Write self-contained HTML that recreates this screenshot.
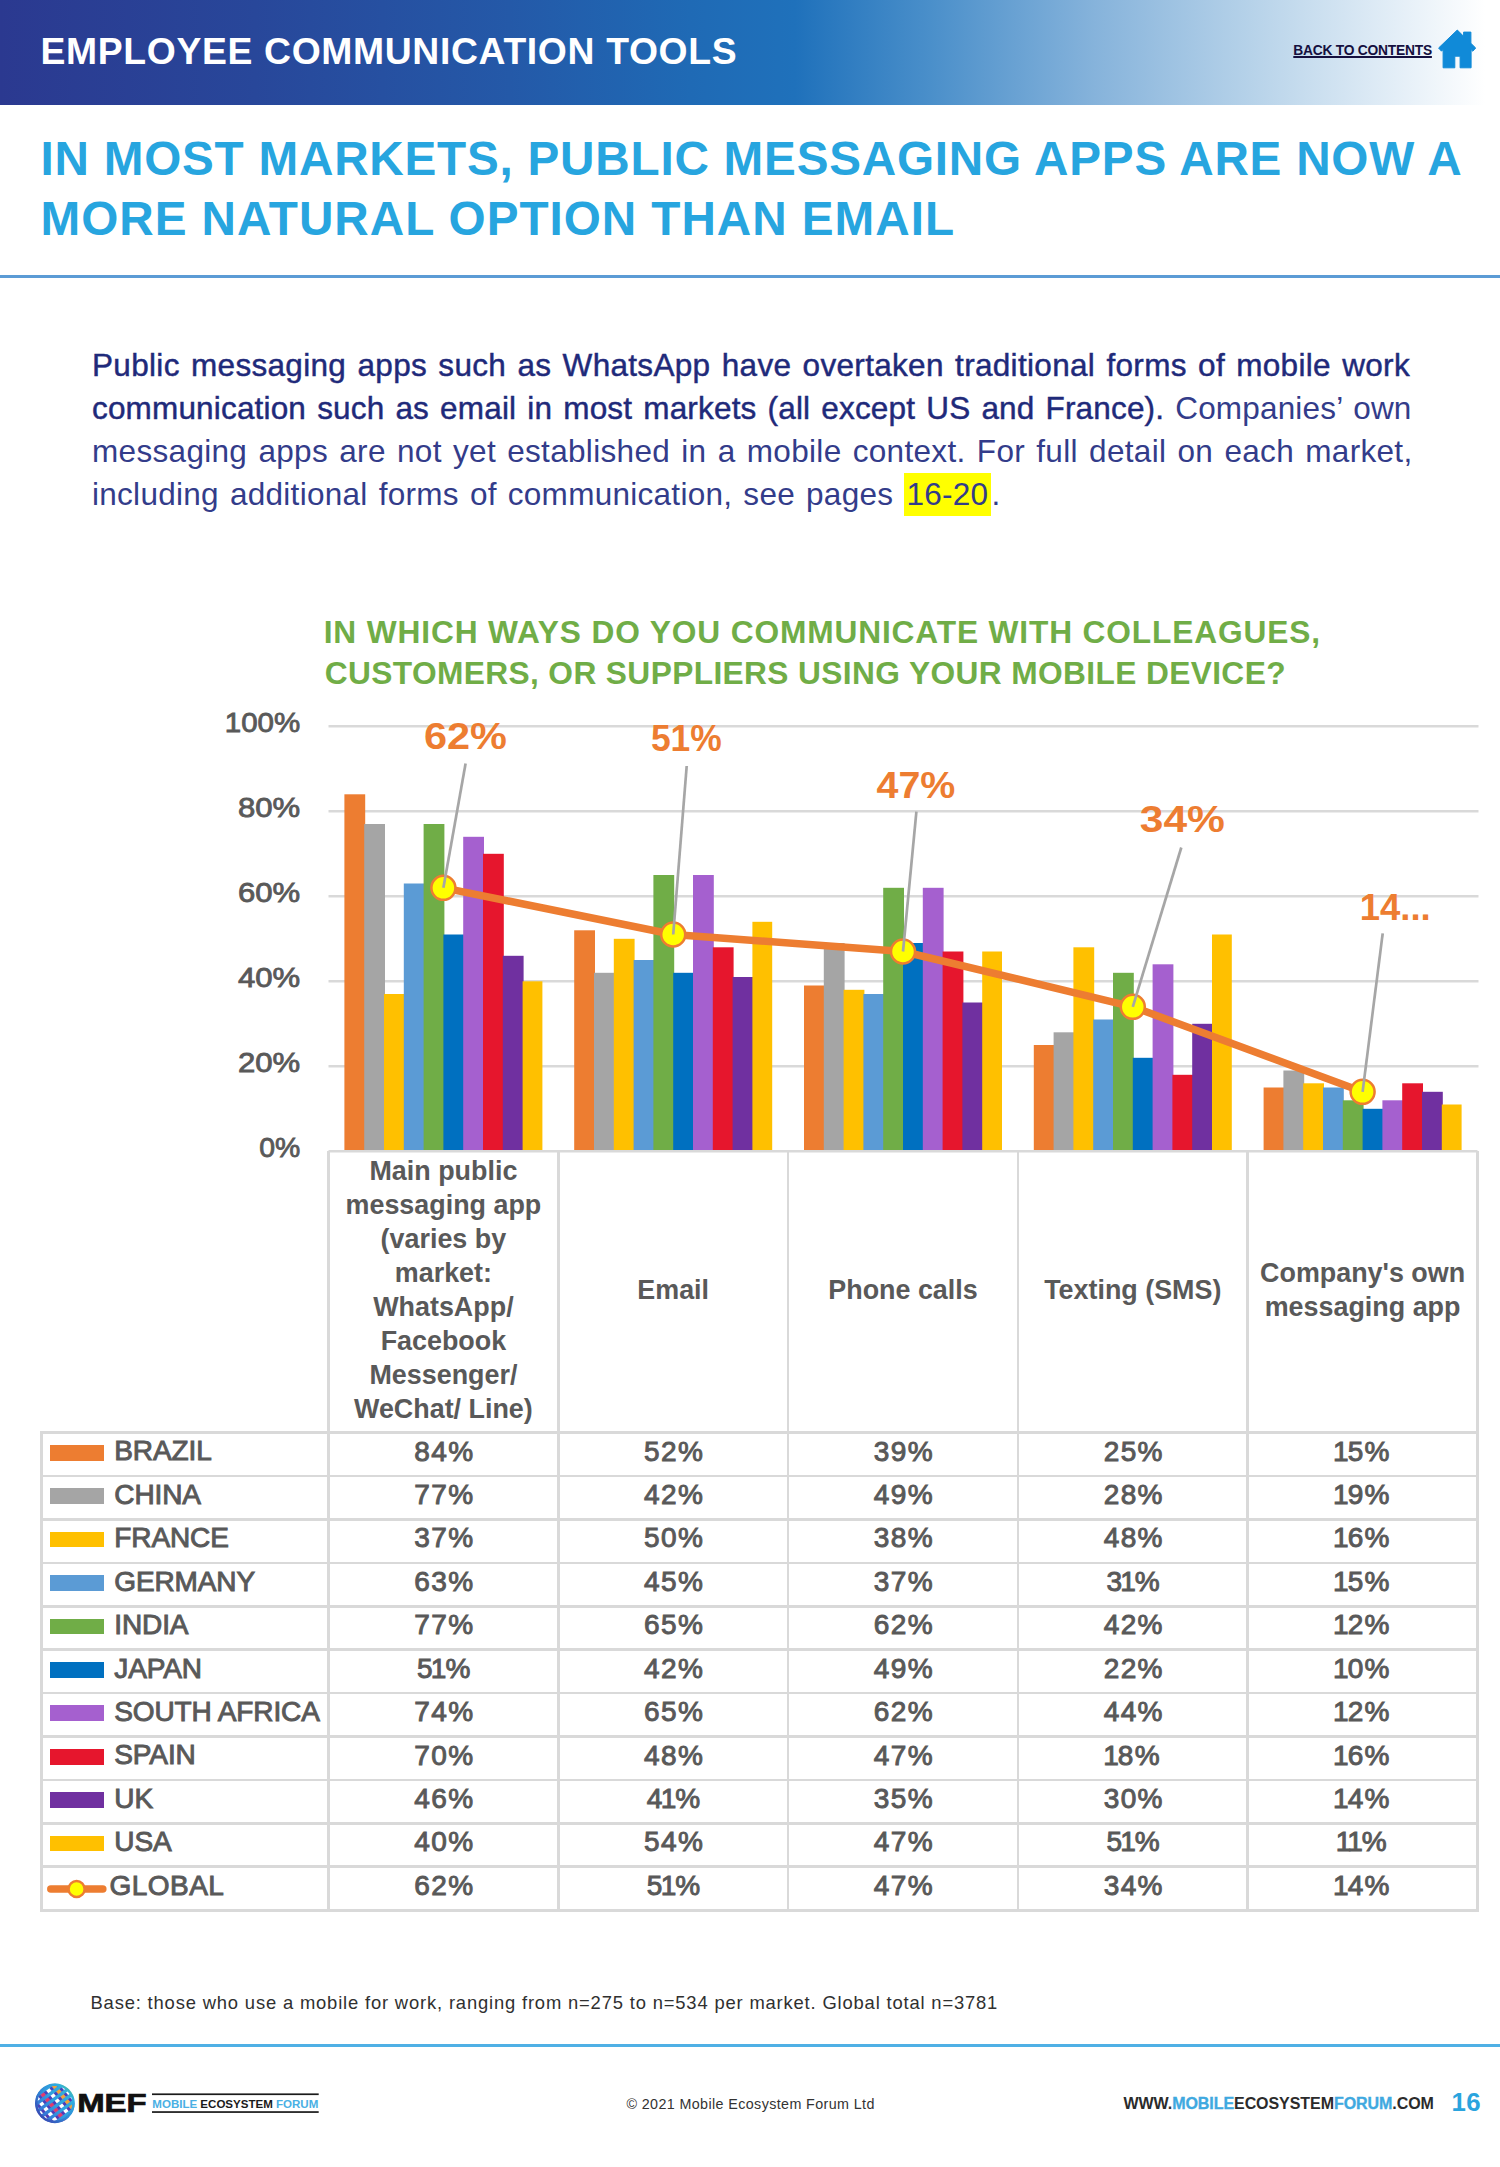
<!DOCTYPE html>
<html><head><meta charset="utf-8"><title>Employee Communication Tools</title>
<style>
*{margin:0;padding:0;box-sizing:border-box}
html,body{width:1500px;height:2167px;background:#fff;overflow:hidden}
body{position:relative;font-family:"Liberation Sans",sans-serif}
.abs{position:absolute}
#band{position:absolute;left:0;top:0;width:1500px;height:104.5px;background:linear-gradient(90deg,#2b3990 0%,#28479a 17%,#2459a8 34%,#1f6ab5 46%,#1f71bb 53%,#4a8fca 62%,#86b3db 73%,#b9d4ea 84%,#e3eef7 93%,#ffffff 99%)}
#htitle{position:absolute;top:29.5px;font-size:37.3px;line-height:42px;color:#fff;font-weight:bold;white-space:nowrap}
#back{position:absolute;top:43px;font-size:13.8px;line-height:16px;color:#15103f;font-weight:bold;white-space:nowrap;text-decoration:underline;text-decoration-thickness:1.6px;text-underline-offset:1.2px}
#home{position:absolute;left:1434px;top:26px}
.title{position:absolute;font-size:47.7px;line-height:56px;color:#27a5df;font-weight:bold;white-space:nowrap}
#rule1{position:absolute;left:0;top:274.5px;width:1500px;height:3px;background:#5b9bd5}
.p{position:absolute;left:92px;width:1318px;font-size:31.5px;line-height:40px;color:#333c8a;white-space:nowrap;text-align:justify;text-align-last:justify}
.p b{font-weight:normal;color:#1f2a7a;-webkit-text-stroke:0.45px #1f2a7a}
.ct{position:absolute;font-size:31.7px;line-height:36px;color:#70ad47;font-weight:bold;white-space:nowrap}
svg text.dl{font:bold 37.5px "Liberation Sans",sans-serif;fill:#ed7d31}
svg text.yl{font:28.4px "Liberation Sans",sans-serif;fill:#595959;stroke:#595959;stroke-width:0.85px}
.cat{position:absolute;top:1150px;height:280px;display:flex;align-items:center;justify-content:center;text-align:center;font-size:26.9px;line-height:34.05px;font-weight:bold;color:#595959}
.row{position:absolute;left:41.3px;width:1436px;height:43.42px;color:#595959;font-size:28px;line-height:43.42px;white-space:nowrap;-webkit-text-stroke:0.95px #595959}
.sw{position:absolute;left:8.7px;top:12.4px;width:54px;height:15.7px}
.nm{position:absolute;left:73px;top:-3.2px;letter-spacing:-0.12px}
.nm.g{left:68.3px;letter-spacing:0.45px}
.gk{position:absolute;left:-0.2px;top:9.8px}
.v{position:absolute;top:-3px;text-align:center;letter-spacing:1.4px;padding-left:2px}
.one{margin-left:-3.2px;letter-spacing:-1.0px}
.hb{position:absolute;height:2.8px;background:#d9d9d9}
.vb{position:absolute;width:2.8px;background:#d9d9d9}
#base{position:absolute;top:1990.5px;font-size:18.4px;line-height:24px;color:#303030;white-space:nowrap}
#rule2{position:absolute;left:0;top:2044.3px;width:1500px;height:2.8px;background:#4fb0e5}
#copy{position:absolute;top:2094.5px;font-size:14.3px;line-height:18px;color:#333;white-space:nowrap}
#www{position:absolute;top:2093.5px;font-size:16px;line-height:20px;font-weight:bold;color:#2b2b2b;white-space:nowrap}
#www i{font-style:normal;color:#3fa9e0;-webkit-text-stroke:0.35px #3fa9e0}
#pg{position:absolute;top:2088px;font-size:25.8px;line-height:28px;font-weight:bold;color:#2aa4de;white-space:nowrap}
</style></head><body>
<div id="band"></div>
<div id="htitle" style="left:40.50px;letter-spacing:0.659px">EMPLOYEE COMMUNICATION TOOLS</div>
<div id="back" style="left:1293.30px;letter-spacing:-0.233px">BACK TO CONTENTS</div>
<svg id="home" width="44" height="44" viewBox="1434 26 44 44"><path d="M1457.3 30 L1463.6 36.3 L1463.6 32.1 L1470.9 32.1 L1470.9 43.3 L1475.7 48 L1472.8 51.2 L1471.1 49.6 L1471.1 67.8 L1460.1 67.8 L1460.1 56.2 L1454.8 56.2 L1454.8 67.8 L1443.1 67.8 L1443.1 49.6 L1441.5 51.2 L1438.6 48 Z" fill="#108ad8" stroke="#108ad8" stroke-width="1" stroke-linejoin="round"/></svg>
<div class="title" id="t1" style="top:131px;left:40.50px;letter-spacing:0.755px">IN MOST MARKETS, PUBLIC MESSAGING APPS ARE NOW A</div>
<div class="title" id="t2" style="top:191px;left:40.50px;letter-spacing:0.959px">MORE NATURAL OPTION THAN EMAIL</div>
<div id="rule1"></div>
<div class="p" style="top:344.5px;letter-spacing:0.32px"><b>Public messaging apps such as WhatsApp have overtaken traditional forms of mobile work</b></div>
<div class="p" style="top:387.5px;letter-spacing:0.17px;width:1319.5px"><b>communication such as email in most markets (all except US and France).</b> Companies&rsquo; own</div>
<div class="p" style="top:430.5px;letter-spacing:0.32px;width:1320.5px">messaging apps are not yet established in a mobile context. For full detail on each market,</div>
<div class="p" style="top:473.5px;width:908.5px;letter-spacing:0.28px">including additional forms of communication, see pages <span style="background:#ffff00;padding:3px 3px 4px 2px;letter-spacing:0.3px">16-20</span>.</div>
<div class="ct" id="ct1" style="top:613.6px;left:323.70px;letter-spacing:0.854px">IN WHICH WAYS DO YOU COMMUNICATE WITH COLLEAGUES,</div>
<div class="ct" id="ct2" style="top:654.6px;left:324.70px;letter-spacing:0.381px">CUSTOMERS, OR SUPPLIERS USING YOUR MOBILE DEVICE?</div>
<svg class="abs" style="left:0;top:0" width="1500" height="1200" viewBox="0 0 1500 1200">
<line x1="328.5" x2="1478.5" y1="726.3" y2="726.3" stroke="#d9d9d9" stroke-width="2.6"/>
<line x1="328.5" x2="1478.5" y1="811.3" y2="811.3" stroke="#d9d9d9" stroke-width="2.6"/>
<line x1="328.5" x2="1478.5" y1="896.3" y2="896.3" stroke="#d9d9d9" stroke-width="2.6"/>
<line x1="328.5" x2="1478.5" y1="981.3" y2="981.3" stroke="#d9d9d9" stroke-width="2.6"/>
<line x1="328.5" x2="1478.5" y1="1066.3" y2="1066.3" stroke="#d9d9d9" stroke-width="2.6"/>
<rect x="344.4" y="794.3" width="20.80" height="355.8" fill="#ed7d31"/>
<rect x="364.2" y="824.0" width="20.80" height="326.0" fill="#a5a5a5"/>
<rect x="384.0" y="994.0" width="20.80" height="156.0" fill="#ffc000"/>
<rect x="403.8" y="883.5" width="20.80" height="266.5" fill="#5b9bd5"/>
<rect x="423.6" y="824.0" width="20.80" height="326.0" fill="#70ad47"/>
<rect x="443.4" y="934.5" width="20.80" height="215.5" fill="#0070c0"/>
<rect x="463.2" y="836.8" width="20.80" height="313.3" fill="#a560cf"/>
<rect x="483.0" y="853.8" width="20.80" height="296.3" fill="#e6162d"/>
<rect x="502.8" y="955.8" width="20.80" height="194.3" fill="#7030a0"/>
<rect x="522.6" y="981.3" width="19.80" height="168.8" fill="#ffc000"/>
<rect x="574.2" y="930.3" width="20.80" height="219.8" fill="#ed7d31"/>
<rect x="594.0" y="972.8" width="20.80" height="177.3" fill="#a5a5a5"/>
<rect x="613.8" y="938.8" width="20.80" height="211.3" fill="#ffc000"/>
<rect x="633.6" y="960.0" width="20.80" height="190.0" fill="#5b9bd5"/>
<rect x="653.4" y="875.0" width="20.80" height="275.0" fill="#70ad47"/>
<rect x="673.2" y="972.8" width="20.80" height="177.3" fill="#0070c0"/>
<rect x="693.0" y="875.0" width="20.80" height="275.0" fill="#a560cf"/>
<rect x="712.8" y="947.3" width="20.80" height="202.8" fill="#e6162d"/>
<rect x="732.6" y="977.0" width="20.80" height="173.0" fill="#7030a0"/>
<rect x="752.4" y="921.8" width="19.80" height="228.3" fill="#ffc000"/>
<rect x="804.0" y="985.5" width="20.80" height="164.5" fill="#ed7d31"/>
<rect x="823.8" y="943.0" width="20.80" height="207.0" fill="#a5a5a5"/>
<rect x="843.6" y="989.8" width="20.80" height="160.3" fill="#ffc000"/>
<rect x="863.4" y="994.0" width="20.80" height="156.0" fill="#5b9bd5"/>
<rect x="883.2" y="887.8" width="20.80" height="262.3" fill="#70ad47"/>
<rect x="903.0" y="943.0" width="20.80" height="207.0" fill="#0070c0"/>
<rect x="922.8" y="887.8" width="20.80" height="262.3" fill="#a560cf"/>
<rect x="942.6" y="951.5" width="20.80" height="198.5" fill="#e6162d"/>
<rect x="962.4" y="1002.5" width="20.80" height="147.5" fill="#7030a0"/>
<rect x="982.2" y="951.5" width="19.80" height="198.5" fill="#ffc000"/>
<rect x="1033.8" y="1045.0" width="20.80" height="105.0" fill="#ed7d31"/>
<rect x="1053.6" y="1032.3" width="20.80" height="117.8" fill="#a5a5a5"/>
<rect x="1073.4" y="947.3" width="20.80" height="202.8" fill="#ffc000"/>
<rect x="1093.2" y="1019.5" width="20.80" height="130.5" fill="#5b9bd5"/>
<rect x="1113.0" y="972.8" width="20.80" height="177.3" fill="#70ad47"/>
<rect x="1132.8" y="1057.8" width="20.80" height="92.3" fill="#0070c0"/>
<rect x="1152.6" y="964.3" width="20.80" height="185.8" fill="#a560cf"/>
<rect x="1172.4" y="1074.8" width="20.80" height="75.3" fill="#e6162d"/>
<rect x="1192.2" y="1023.8" width="20.80" height="126.3" fill="#7030a0"/>
<rect x="1212.0" y="934.5" width="19.80" height="215.5" fill="#ffc000"/>
<rect x="1263.6" y="1087.5" width="20.80" height="62.5" fill="#ed7d31"/>
<rect x="1283.4" y="1070.5" width="20.80" height="79.5" fill="#a5a5a5"/>
<rect x="1303.2" y="1083.3" width="20.80" height="66.8" fill="#ffc000"/>
<rect x="1323.0" y="1087.5" width="20.80" height="62.5" fill="#5b9bd5"/>
<rect x="1342.8" y="1100.3" width="20.80" height="49.8" fill="#70ad47"/>
<rect x="1362.6" y="1108.8" width="20.80" height="41.3" fill="#0070c0"/>
<rect x="1382.4" y="1100.3" width="20.80" height="49.8" fill="#a560cf"/>
<rect x="1402.2" y="1083.3" width="20.80" height="66.8" fill="#e6162d"/>
<rect x="1422.0" y="1091.8" width="20.80" height="58.3" fill="#7030a0"/>
<rect x="1441.8" y="1104.5" width="19.80" height="45.5" fill="#ffc000"/>
<line x1="328.5" x2="1477.5" y1="1151.3" y2="1151.3" stroke="#d9d9d9" stroke-width="2.6"/>
<polyline fill="none" stroke="#ed7d31" stroke-width="7.5" stroke-linejoin="round" points="443.4,887.8 673.2,934.5 903.0,951.5 1132.8,1006.8 1362.6,1091.8"/>
<circle cx="443.4" cy="887.8" r="12" fill="#ffff00" stroke="#ed7d31" stroke-width="2.5"/>
<circle cx="673.2" cy="934.5" r="12" fill="#ffff00" stroke="#ed7d31" stroke-width="2.5"/>
<circle cx="903.0" cy="951.5" r="12" fill="#ffff00" stroke="#ed7d31" stroke-width="2.5"/>
<circle cx="1132.8" cy="1006.8" r="12" fill="#ffff00" stroke="#ed7d31" stroke-width="2.5"/>
<circle cx="1362.6" cy="1091.8" r="12" fill="#ffff00" stroke="#ed7d31" stroke-width="2.5"/>
<line x1="465.6" y1="763.6" x2="443.4" y2="887.8" stroke="#a6a6a6" stroke-width="2.7"/>
<line x1="686.7" y1="766.0" x2="673.2" y2="934.5" stroke="#a6a6a6" stroke-width="2.7"/>
<line x1="916.4" y1="811.6" x2="903.0" y2="951.5" stroke="#a6a6a6" stroke-width="2.7"/>
<line x1="1181.3" y1="847.5" x2="1132.8" y2="1006.8" stroke="#a6a6a6" stroke-width="2.7"/>
<line x1="1382.7" y1="933.3" x2="1362.6" y2="1091.8" stroke="#a6a6a6" stroke-width="2.7"/>
<text x="424.0" y="749.0" textLength="83.0" lengthAdjust="spacingAndGlyphs" class="dl">62%</text>
<text x="650.9" y="750.9" textLength="70.9" lengthAdjust="spacingAndGlyphs" class="dl">51%</text>
<text x="876.5" y="797.9" textLength="78.8" lengthAdjust="spacingAndGlyphs" class="dl">47%</text>
<text x="1139.8" y="832.0" textLength="85.1" lengthAdjust="spacingAndGlyphs" class="dl">34%</text>
<text x="1359.7" y="920.0" textLength="71.0" lengthAdjust="spacingAndGlyphs" class="dl">14...</text>
<text x="224.8" y="732.1" textLength="75.4" lengthAdjust="spacingAndGlyphs" class="yl">100%</text>
<text x="238.0" y="817.1" textLength="62.2" lengthAdjust="spacingAndGlyphs" class="yl">80%</text>
<text x="238.0" y="902.1" textLength="62.2" lengthAdjust="spacingAndGlyphs" class="yl">60%</text>
<text x="238.0" y="987.1" textLength="62.2" lengthAdjust="spacingAndGlyphs" class="yl">40%</text>
<text x="238.0" y="1072.1" textLength="62.2" lengthAdjust="spacingAndGlyphs" class="yl">20%</text>
<text x="259.2" y="1157.1" textLength="41.0" lengthAdjust="spacingAndGlyphs" class="yl">0%</text>
</svg>
<div class="hb" style="top:1431.2px;left:39.9px;width:1439.0px"></div>
<div class="hb" style="top:1474.6px;left:39.9px;width:1439.0px"></div>
<div class="hb" style="top:1518.0px;left:39.9px;width:1439.0px"></div>
<div class="hb" style="top:1561.5px;left:39.9px;width:1439.0px"></div>
<div class="hb" style="top:1604.9px;left:39.9px;width:1439.0px"></div>
<div class="hb" style="top:1648.3px;left:39.9px;width:1439.0px"></div>
<div class="hb" style="top:1691.7px;left:39.9px;width:1439.0px"></div>
<div class="hb" style="top:1735.1px;left:39.9px;width:1439.0px"></div>
<div class="hb" style="top:1778.6px;left:39.9px;width:1439.0px"></div>
<div class="hb" style="top:1822.0px;left:39.9px;width:1439.0px"></div>
<div class="hb" style="top:1865.4px;left:39.9px;width:1439.0px"></div>
<div class="hb" style="top:1908.8px;left:39.9px;width:1439.0px"></div>
<div class="vb" style="left:39.9px;top:1432.6px;height:477.6px"></div>
<div class="vb" style="left:327.1px;top:1151.3px;height:758.9px"></div>
<div class="vb" style="left:556.9px;top:1151.3px;height:758.9px"></div>
<div class="vb" style="left:786.7px;top:1151.3px;height:758.9px"></div>
<div class="vb" style="left:1016.5px;top:1151.3px;height:758.9px"></div>
<div class="vb" style="left:1246.3px;top:1151.3px;height:758.9px"></div>
<div class="vb" style="left:1476.1px;top:1151.3px;height:758.9px"></div>
<div class="cat" style="left:328.5px;width:229.8px"><div>Main public<br>messaging app<br>(varies by<br>market:<br>WhatsApp/<br>Facebook<br>Messenger/<br>WeChat/ Line)</div></div><div class="cat" style="left:558.3px;width:229.8px"><div>Email</div></div><div class="cat" style="left:788.1px;width:229.8px"><div>Phone calls</div></div><div class="cat" style="left:1017.9px;width:229.8px"><div>Texting (SMS)</div></div><div class="cat" style="left:1247.7px;width:229.8px"><div>Company's own<br>messaging app</div></div>
<div class="row" style="top:1432.6px"><span class="sw" style="background:#ed7d31"></span><span class="nm">BRAZIL</span><span class="v" style="left:287.2px;width:229.8px">84%</span><span class="v" style="left:517.0px;width:229.8px">52%</span><span class="v" style="left:746.8px;width:229.8px">39%</span><span class="v" style="left:976.6px;width:229.8px">25%</span><span class="v" style="left:1206.4px;width:229.8px"><span class="one">1</span>5%</span></div>
<div class="row" style="top:1476.0px"><span class="sw" style="background:#a5a5a5"></span><span class="nm">CHINA</span><span class="v" style="left:287.2px;width:229.8px">77%</span><span class="v" style="left:517.0px;width:229.8px">42%</span><span class="v" style="left:746.8px;width:229.8px">49%</span><span class="v" style="left:976.6px;width:229.8px">28%</span><span class="v" style="left:1206.4px;width:229.8px"><span class="one">1</span>9%</span></div>
<div class="row" style="top:1519.4px"><span class="sw" style="background:#ffc000"></span><span class="nm">FRANCE</span><span class="v" style="left:287.2px;width:229.8px">37%</span><span class="v" style="left:517.0px;width:229.8px">50%</span><span class="v" style="left:746.8px;width:229.8px">38%</span><span class="v" style="left:976.6px;width:229.8px">48%</span><span class="v" style="left:1206.4px;width:229.8px"><span class="one">1</span>6%</span></div>
<div class="row" style="top:1562.9px"><span class="sw" style="background:#5b9bd5"></span><span class="nm">GERMANY</span><span class="v" style="left:287.2px;width:229.8px">63%</span><span class="v" style="left:517.0px;width:229.8px">45%</span><span class="v" style="left:746.8px;width:229.8px">37%</span><span class="v" style="left:976.6px;width:229.8px">3<span class="one">1</span>%</span><span class="v" style="left:1206.4px;width:229.8px"><span class="one">1</span>5%</span></div>
<div class="row" style="top:1606.3px"><span class="sw" style="background:#70ad47"></span><span class="nm">INDIA</span><span class="v" style="left:287.2px;width:229.8px">77%</span><span class="v" style="left:517.0px;width:229.8px">65%</span><span class="v" style="left:746.8px;width:229.8px">62%</span><span class="v" style="left:976.6px;width:229.8px">42%</span><span class="v" style="left:1206.4px;width:229.8px"><span class="one">1</span>2%</span></div>
<div class="row" style="top:1649.7px"><span class="sw" style="background:#0070c0"></span><span class="nm">JAPAN</span><span class="v" style="left:287.2px;width:229.8px">5<span class="one">1</span>%</span><span class="v" style="left:517.0px;width:229.8px">42%</span><span class="v" style="left:746.8px;width:229.8px">49%</span><span class="v" style="left:976.6px;width:229.8px">22%</span><span class="v" style="left:1206.4px;width:229.8px"><span class="one">1</span>0%</span></div>
<div class="row" style="top:1693.1px"><span class="sw" style="background:#a560cf"></span><span class="nm">SOUTH AFRICA</span><span class="v" style="left:287.2px;width:229.8px">74%</span><span class="v" style="left:517.0px;width:229.8px">65%</span><span class="v" style="left:746.8px;width:229.8px">62%</span><span class="v" style="left:976.6px;width:229.8px">44%</span><span class="v" style="left:1206.4px;width:229.8px"><span class="one">1</span>2%</span></div>
<div class="row" style="top:1736.5px"><span class="sw" style="background:#e6162d"></span><span class="nm">SPAIN</span><span class="v" style="left:287.2px;width:229.8px">70%</span><span class="v" style="left:517.0px;width:229.8px">48%</span><span class="v" style="left:746.8px;width:229.8px">47%</span><span class="v" style="left:976.6px;width:229.8px"><span class="one">1</span>8%</span><span class="v" style="left:1206.4px;width:229.8px"><span class="one">1</span>6%</span></div>
<div class="row" style="top:1780.0px"><span class="sw" style="background:#7030a0"></span><span class="nm">UK</span><span class="v" style="left:287.2px;width:229.8px">46%</span><span class="v" style="left:517.0px;width:229.8px">4<span class="one">1</span>%</span><span class="v" style="left:746.8px;width:229.8px">35%</span><span class="v" style="left:976.6px;width:229.8px">30%</span><span class="v" style="left:1206.4px;width:229.8px"><span class="one">1</span>4%</span></div>
<div class="row" style="top:1823.4px"><span class="sw" style="background:#ffc000"></span><span class="nm">USA</span><span class="v" style="left:287.2px;width:229.8px">40%</span><span class="v" style="left:517.0px;width:229.8px">54%</span><span class="v" style="left:746.8px;width:229.8px">47%</span><span class="v" style="left:976.6px;width:229.8px">5<span class="one">1</span>%</span><span class="v" style="left:1206.4px;width:229.8px"><span class="one">1</span><span class="one">1</span>%</span></div>
<div class="row" style="top:1866.8px"><svg class="gk" width="70" height="24" viewBox="0 0 70 24"><line x1="9.8" y1="12" x2="61.8" y2="12" stroke="#ed7d31" stroke-width="7.5" stroke-linecap="round"/><circle cx="35.6" cy="12" r="8" fill="#ffff00" stroke="#ed7d31" stroke-width="2.4"/></svg><span class="nm g">GLOBAL</span><span class="v" style="left:287.2px;width:229.8px">62%</span><span class="v" style="left:517.0px;width:229.8px">5<span class="one">1</span>%</span><span class="v" style="left:746.8px;width:229.8px">47%</span><span class="v" style="left:976.6px;width:229.8px">34%</span><span class="v" style="left:1206.4px;width:229.8px"><span class="one">1</span>4%</span></div>
<div id="base" style="left:90.50px;letter-spacing:0.828px">Base: those who use a mobile for work, ranging from n=275 to n=534 per market. Global total n=3781</div>
<div id="rule2"></div>
<div id="copy" style="left:626.40px;letter-spacing:0.394px">&copy; 2021 Mobile Ecosystem Forum Ltd</div>
<div id="www" style="left:1123.50px;letter-spacing:-0.059px">WWW.<i>MOBILE</i>ECOSYSTEM<i>FORUM</i>.COM</div>
<div id="pg" style="left:1451.50px;letter-spacing:0.500px">16</div>
<svg class="abs" style="left:30px;top:2078px" width="300" height="50" viewBox="30 2078 300 50">
<defs>
<clipPath id="gc"><circle cx="54.9" cy="2103.3" r="19.6"/></clipPath>
<linearGradient id="gb" x1="0" y1="1" x2="1" y2="0"><stop offset="0" stop-color="#3b35a8"/><stop offset="0.45" stop-color="#2f86d6"/><stop offset="0.8" stop-color="#2fb0e0"/><stop offset="1" stop-color="#5cc36a"/></linearGradient>
<linearGradient id="gp" x1="0" y1="0" x2="1" y2="1"><stop offset="0" stop-color="#e8457a"/><stop offset="0.5" stop-color="#d63384"/><stop offset="1" stop-color="#7a3bc0"/></linearGradient>
<linearGradient id="gv" gradientUnits="userSpaceOnUse" x1="30" y1="2103" x2="80" y2="2103"><stop offset="0" stop-color="#3d49c0"/><stop offset="1" stop-color="#5a35b0"/></linearGradient>
<linearGradient id="gb2" gradientUnits="userSpaceOnUse" x1="30" y1="2103" x2="80" y2="2103"><stop offset="0" stop-color="#3a5fd0"/><stop offset="0.5" stop-color="#2f9ee0"/><stop offset="1" stop-color="#35b8d8"/></linearGradient>
</defs>
<g clip-path="url(#gc)">
<rect x="34" y="2083" width="42" height="42" fill="#fff"/>
<g transform="rotate(50 54.9 2103.3)"><line x1="30.9" x2="78.9" y1="2106.8" y2="2106.8" stroke="#e23a6e" stroke-width="4.4"/><line x1="30.9" x2="78.9" y1="2092.8" y2="2092.8" stroke="#f2a23a" stroke-width="4.4"/><line x1="30.9" x2="78.9" y1="2089.3" y2="2089.3" stroke="url(#gv)" stroke-width="3.0"/><line x1="30.9" x2="78.9" y1="2096.3" y2="2096.3" stroke="url(#gv)" stroke-width="3.0"/><line x1="30.9" x2="78.9" y1="2103.3" y2="2103.3" stroke="url(#gv)" stroke-width="3.0"/><line x1="30.9" x2="78.9" y1="2110.3" y2="2110.3" stroke="url(#gv)" stroke-width="3.0"/><line x1="30.9" x2="78.9" y1="2117.3" y2="2117.3" stroke="url(#gv)" stroke-width="3.0"/></g>
<g transform="rotate(-36 54.9 2103.3)"><line x1="30.9" x2="78.9" y1="2086.3" y2="2086.3" stroke="url(#gb2)" stroke-width="3.3"/><line x1="30.9" x2="78.9" y1="2092.9" y2="2092.9" stroke="url(#gb2)" stroke-width="3.3"/><line x1="30.9" x2="78.9" y1="2099.5" y2="2099.5" stroke="url(#gb2)" stroke-width="3.3"/><line x1="30.9" x2="78.9" y1="2106.1" y2="2106.1" stroke="url(#gb2)" stroke-width="3.3"/><line x1="30.9" x2="78.9" y1="2112.7" y2="2112.7" stroke="url(#gb2)" stroke-width="3.3"/><line x1="30.9" x2="78.9" y1="2119.3" y2="2119.3" stroke="url(#gb2)" stroke-width="3.3"/></g>
</g>
<circle cx="54.9" cy="2103.3" r="18.6" fill="none" stroke="url(#gb)" stroke-width="2.6"/>
<text x="77.2" y="2112.3" textLength="69.5" lengthAdjust="spacingAndGlyphs" style="font:bold 25.4px 'Liberation Sans',sans-serif;fill:#111;stroke:#111;stroke-width:0.7px">MEF</text>
<rect x="152" y="2093.4" width="166.7" height="1.7" fill="#1a1a1a"/>
<rect x="152" y="2111.2" width="166.7" height="1.7" fill="#1a1a1a"/>
<text x="152.3" y="2107.6" textLength="166" lengthAdjust="spacingAndGlyphs" style="font:bold 11.3px 'Liberation Sans',sans-serif;fill:#1a1a1a"><tspan fill="#4ab0e4">MOBILE</tspan> ECOSYSTEM <tspan fill="#4ab0e4">FORUM</tspan></text>
</svg>
</body></html>
